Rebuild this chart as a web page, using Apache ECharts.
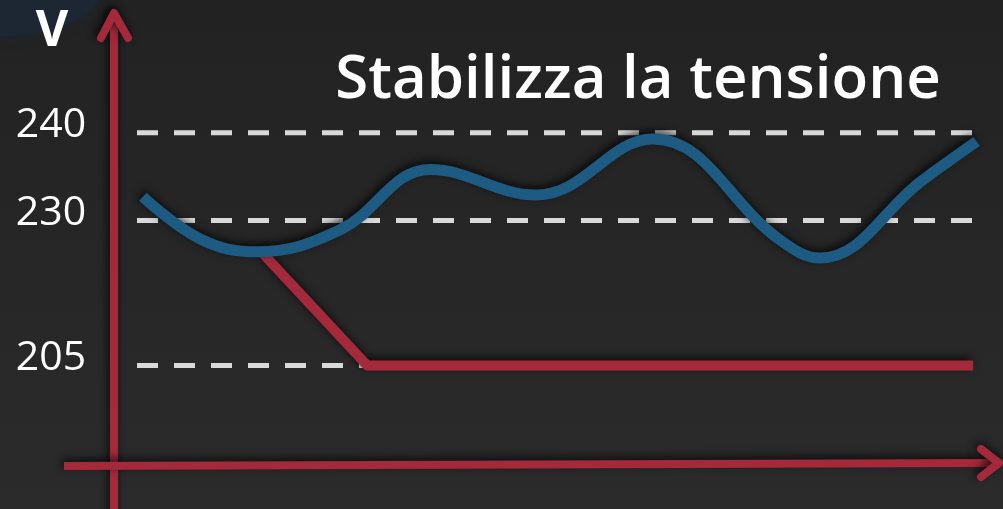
<!DOCTYPE html>
<html>
<head>
<meta charset="utf-8">
<script src="https://cdn.jsdelivr.net/npm/echarts@6/dist/echarts.min.js"></script>
<style>
  html, body { margin: 0; padding: 0; background: #262626; }
  #chart { width: 1003px; height: 509px; }
</style>
</head>
<body>
<div id="chart"></div>
<script>
// Mains voltage (V) over time, with and without a stabilizer
const titleText = 'Stabilizza la tensione';
const unitLabel = 'V';

// reference levels drawn as dashed lines, labelled on the axis
const levelValues = [240, 230, 205];
const timeSpan = [0, 100];

// unregulated supply: wandering voltage
const mainsTime = [0.7, 7.5, 14.2, 24.1, 34.8, 47.4, 61.2, 76.3, 81.0, 93.2, 99.6];
const mainsVolt = [232.7, 226.8, 224.6, 228.4, 235.8, 232.9, 239.3, 226.6, 223.5, 234.6, 239.0];

// stabilized output: drops to 205 V and stays there
const stableTime = [14.8, 27.3, 99.2];
const stableVolt = [224.5, 205, 205];

// the band above 230 V is drawn stretched (schematic, broken scale)
const UPPER_STRETCH = 1.51;
function toAxis(v) {
  return v > 230 ? 230 + (v - 230) * UPPER_STRETCH : v;
}

const RED = '#a3293b';
const BLUE = '#1e5b82';
const SHADOW = { shadowBlur: 8, shadowColor: 'rgba(0,0,0,0.75)', shadowOffsetX: -2, shadowOffsetY: -3 };

const chart = echarts.init(document.getElementById('chart'), null, { renderer: 'canvas' });

const levelSeries = levelValues.map(v => ({
  name: 'level ' + v,
  type: 'line',
  z: 1,
  silent: true,
  symbol: 'none',
  data: timeSpan.map(t => [t, toAxis(v)]),
  lineStyle: { color: '#d9d9d9', width: 5, type: [21, 16], cap: 'butt' }
}));

const option = {
  animation: false,
  backgroundColor: {
    type: 'linear', x: 0, y: 0, x2: 0, y2: 1,
    colorStops: [{ offset: 0, color: '#222222' }, { offset: 1, color: '#2b2b2b' }]
  },
  grid: { left: 137, right: 23, top: 0, bottom: 45 },
  xAxis: { type: 'value', min: timeSpan[0], max: timeSpan[1], show: false },
  yAxis: { type: 'value', min: 188, max: 268, show: false },
  series: levelSeries.concat([
    {
      name: 'stabilized',
      type: 'line',
      z: 3,
      symbol: 'none',
      data: stableTime.map((t, i) => [t, toAxis(stableVolt[i])]),
      lineStyle: Object.assign({ color: RED, width: 10, cap: 'butt', join: 'round' }, SHADOW)
    },
    {
      name: 'mains',
      type: 'line',
      z: 4,
      smooth: 0.4,
      symbol: 'none',
      data: mainsTime.map((t, i) => [t, toAxis(mainsVolt[i])]),
      lineStyle: Object.assign({ color: BLUE, width: 11, cap: 'butt' }, SHADOW)
    }
  ])
};

chart.setOption(option);

// axis arrows, title and level labels
const axisStyle = Object.assign({ stroke: RED, lineWidth: 8, lineCap: 'round', lineJoin: 'round', fill: null }, SHADOW);
const labelFont = '41px "Open Sans", "Noto Sans", sans-serif';

const graphics = [
  {
    type: 'ellipse', z: 0, silent: true,
    shape: { cx: -10, cy: -8, rx: 110, ry: 45 },
    style: { fill: '#1d2733', shadowBlur: 12, shadowColor: '#1d2733' }
  },
  { type: 'line', z: 10, silent: true, shape: { x1: 114, y1: 14, x2: 114, y2: 520 }, style: Object.assign({}, axisStyle, { lineCap: 'butt' }) },
  { type: 'polyline', z: 10, silent: true, shape: { points: [[101, 38], [114, 13], [128, 38]] }, style: axisStyle },
  { type: 'line', z: 10, silent: true, shape: { x1: 64, y1: 466, x2: 998, y2: 463 }, style: Object.assign({}, axisStyle, { lineCap: 'butt' }) },
  { type: 'polyline', z: 10, silent: true, shape: { points: [[981, 449], [999, 463], [981, 477]] }, style: axisStyle },
  {
    type: 'text', z: 10, silent: true,
    style: { text: unitLabel, x: 52, y: 32, fill: '#ffffff', font: 'bold 50px "Open Sans", "Noto Sans", sans-serif', textAlign: 'center', textVerticalAlign: 'middle' }
  },
  {
    type: 'text', z: 10, silent: true,
    style: { text: titleText, x: 638, y: 81, fill: '#ffffff', font: '600 60px "Open Sans", "Noto Sans", sans-serif', textAlign: 'center', textVerticalAlign: 'middle' }
  }
];

levelValues.forEach(v => {
  const py = chart.convertToPixel({ gridIndex: 0 }, [0, toAxis(v)])[1];
  graphics.push({
    type: 'text', z: 10, silent: true,
    style: { text: String(v), x: 51, y: py - 7, fill: '#ffffff', font: labelFont, textAlign: 'center', textVerticalAlign: 'middle' }
  });
});

chart.setOption({ graphic: graphics });
</script>
</body>
</html>
